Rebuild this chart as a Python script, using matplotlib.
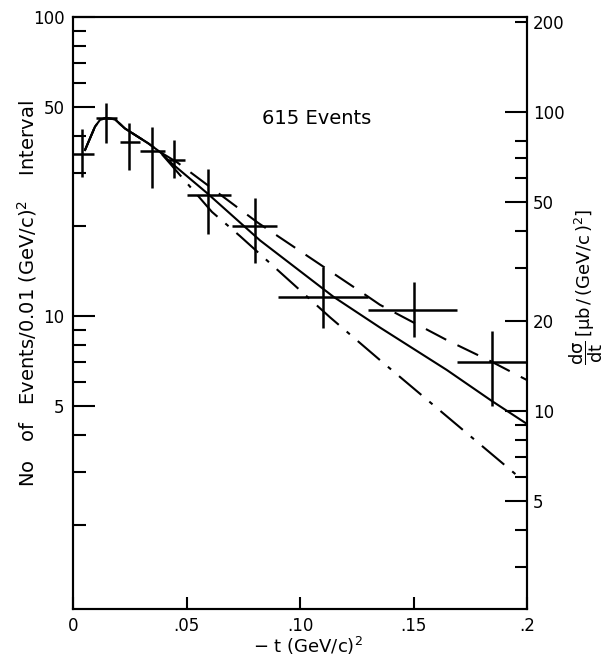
import matplotlib
matplotlib.use("Agg")
import matplotlib.pyplot as plt
from matplotlib.ticker import FixedLocator, FixedFormatter, NullFormatter

plt.rcParams["font.family"] = ["DejaVu Sans"]
plt.rcParams["mathtext.default"] = "regular"

# measured points: -t centre, bin edges, counts and error-bar ends
pt_t = [0.0038, 0.0144, 0.0247, 0.0347, 0.0446, 0.0596, 0.0802, 0.110, 0.150, 0.1844]
pt_tlo = [0.0, 0.0101, 0.0207, 0.0295, 0.0413, 0.0502, 0.0699, 0.0903, 0.130, 0.1693]
pt_thi = [0.0094, 0.0192, 0.0295, 0.0405, 0.0493, 0.0696, 0.0897, 0.130, 0.169, 0.200]
pt_n = [34.8, 45.9, 38.2, 35.7, 33.2, 25.4, 20.0, 11.6, 10.5, 7.03]
pt_nlo = [29.2, 37.8, 30.8, 26.9, 28.9, 18.8, 15.0, 9.1, 8.5, 5.0]
pt_nhi = [42.1, 51.5, 44.1, 43.0, 38.8, 31.0, 24.8, 14.6, 13.0, 8.9]

# the three fits share the low -t part
head_t = [0.0053, 0.0075, 0.0097, 0.0119, 0.0144, 0.0185, 0.0229, 0.0332, 0.0383]
head_n = [35.9, 39.3, 43.0, 45.3, 46.0, 45.5, 42.4, 37.8, 35.4]

solid_t = [0.0427, 0.059, 0.0824, 0.1147, 0.1352, 0.1646, 0.1844, 0.200]
solid_n = [32.8, 25.8, 17.9, 11.6, 9.15, 6.6, 5.2, 4.35]

dashed_t = [0.0458, 0.0815, 0.130, 0.1352, 0.1646, 0.1844, 0.200]
dashed_n = [32.7, 20.5, 11.6, 10.9, 8.31, 7.03, 6.1]

dashdot_t = [0.0612, 0.0736, 0.1132, 0.1352, 0.1962]
dashdot_n = [22.3, 18.5, 9.9, 7.12, 2.9]

x_ticks = [0, 0.05, 0.10, 0.15, 0.20]
x_labels = ["0", ".05", ".10", ".15", ".2"]
left_major = [5, 10, 50, 100]
left_minor = [2, 3, 4, 6, 7, 8, 9, 20, 30, 40, 60, 70, 80, 90]
right_major = [5, 10, 20, 50, 100]
right_minor = [3, 4, 6, 7, 8, 9, 30, 40, 60, 70, 80, 200]

left_ylim = (1.047, 100)
xsec_scale = 2.08  # right axis = left axis * scale

fig = plt.figure(figsize=(6.08, 6.59), dpi=100)
ax = fig.add_axes([0.120, 0.076, 0.747, 0.898])

lw = 1.5
for t, lo, hi, n, nlo, nhi in zip(pt_t, pt_tlo, pt_thi, pt_n, pt_nlo, pt_nhi):
    ax.errorbar([t], [n], xerr=[[t - lo], [hi - t]], yerr=[[n - nlo], [nhi - n]],
                fmt="none", ecolor="black", elinewidth=1.8, capsize=0)

ax.plot(head_t + solid_t, head_n + solid_n, color="black", lw=lw)
ax.plot(head_t + dashed_t, head_n + dashed_n, color="black", lw=lw,
        linestyle=(0, (11, 6)))
ax.plot(head_t + dashdot_t, head_n + dashdot_n, color="black", lw=lw,
        linestyle=(0, (14, 5, 2, 5)))

ax.text(0.1075, 45.9, "615 Events", ha="center", va="center", fontsize=14)

ax.set_xlim(0, 0.2)
ax.set_yscale("log")
ax.set_ylim(*left_ylim)
ax.set_xticks(x_ticks)
ax.set_xticklabels(x_labels)
ax.yaxis.set_major_locator(FixedLocator(left_major))
ax.yaxis.set_major_formatter(FixedFormatter([str(v) for v in left_major]))
ax.yaxis.set_minor_locator(FixedLocator(left_minor))
ax.yaxis.set_minor_formatter(NullFormatter())
ax.tick_params(axis="x", direction="in", length=9, width=1.5, labelsize=12, pad=6)
ax.tick_params(axis="y", which="major", direction="in", length=16, width=1.5,
               labelsize=12, pad=6, right=False)
ax.tick_params(axis="y", which="minor", direction="in", length=9, width=1.5,
               right=False)
ax.tick_params(axis="x", which="minor", bottom=False, top=False)
for sp in ax.spines.values():
    sp.set_linewidth(1.5)

ax.set_xlabel("$-$ t (GeV/c)$^2$", fontsize=13)
ax.xaxis.set_label_coords(0.518, -0.044)
ax.set_ylabel("No   of   Events/0.01 (GeV/c)$^2$    Interval", fontsize=14)
ax.yaxis.set_label_coords(-0.075, 0.532)

ax2 = ax.twinx()
ax2.set_yscale("log")
ax2.set_ylim(left_ylim[0] * xsec_scale, left_ylim[1] * xsec_scale)
ax2.yaxis.set_major_locator(FixedLocator(right_major))
ax2.yaxis.set_major_formatter(FixedFormatter([str(v) for v in right_major]))
ax2.yaxis.set_minor_locator(FixedLocator(right_minor))
ax2.yaxis.set_minor_formatter(FixedFormatter(["200" if v == 200 else "" for v in right_minor]))
ax2.tick_params(axis="y", which="major", direction="in", length=16, width=1.5,
                labelsize=12, pad=4)
ax2.tick_params(axis="y", which="minor", direction="in", length=9, width=1.5,
                labelsize=12, pad=4)
for sp in ax2.spines.values():
    sp.set_linewidth(1.5)
ax2.set_ylabel(r"$\dfrac{d\sigma}{dt}\,[\mu b\,/\,(GeV/c\,)^2]$", fontsize=13)
ax2.yaxis.set_label_coords(1.088, 0.544)

fig.savefig("out.png", dpi=100)
